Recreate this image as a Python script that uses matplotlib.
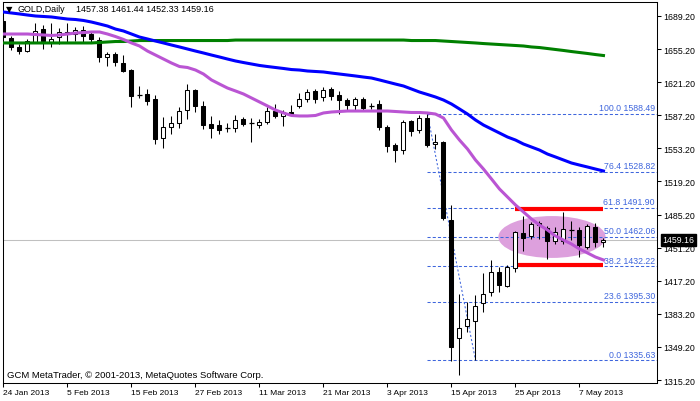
import matplotlib
matplotlib.use('Agg')
import matplotlib.pyplot as plt
from matplotlib.patches import Rectangle, Ellipse

plt.rcParams['font.family'] = ['Liberation Sans', 'DejaVu Sans']

# ---- data (GOLD daily, 24 Jan - 10 May 2013) ----
date_ticks = [0, 8, 16, 24, 32, 40, 48, 56, 64, 72]
date_labels = ['24 Jan 2013', '5 Feb 2013', '15 Feb 2013', '27 Feb 2013', '11 Mar 2013',
               '21 Mar 2013', '3 Apr 2013', '15 Apr 2013', '25 Apr 2013', '7 May 2013']

opens = [1684.1, 1666.6, 1657.4, 1653.2, 1662.5, 1675.8, 1662.5, 1667.6, 1670.7, 1670.7,
         1674.8, 1670.7, 1664.5, 1647.1, 1650.2, 1640.9, 1633.7, 1608.6, 1609.1, 1603.9,
         1563.9, 1575.2, 1579.3, 1592.6, 1613.2, 1596.8, 1578.3, 1577.2, 1574.2, 1574.2,
         1583.4, 1579.3, 1577.2, 1580.3, 1591.6, 1586.5, 1590.6, 1596.8, 1603.9, 1612.2,
         1606.0, 1614.2, 1608.1, 1602.9, 1597.8, 1603.9, 1597.3, 1598.8, 1575.2, 1556.7,
         1551.6, 1581.3, 1572.1, 1584.4, 1557.7, 1559.8, 1479.7, 1358.4, 1370.8, 1375.9,
         1394.4, 1405.7, 1426.2, 1411.9, 1430.3, 1466.3, 1463.2, 1476.6, 1471.4, 1458.1,
         1458.1, 1468.9, 1469.4, 1451.9, 1472.5, 1457.38]
highs = [1687.1, 1668.7, 1660.4, 1665.6, 1682.0, 1679.9, 1682.0, 1676.9, 1682.0, 1677.9,
         1678.9, 1672.8, 1667.6, 1652.2, 1652.2, 1649.1, 1634.8, 1617.3, 1614.2, 1608.1,
         1585.5, 1586.5, 1595.7, 1619.3, 1614.2, 1601.9, 1586.5, 1582.4, 1579.3, 1587.5,
         1585.5, 1584.4, 1583.4, 1595.7, 1598.8, 1592.6, 1597.8, 1610.1, 1614.2, 1614.2,
         1616.3, 1616.3, 1612.2, 1605.0, 1606.0, 1606.0, 1599.8, 1602.9, 1577.2, 1558.7,
         1582.4, 1582.7, 1587.0, 1588.49, 1568.0, 1560.8, 1495.1, 1403.6, 1395.4, 1402.6,
         1425.2, 1438.6, 1431.4, 1433.7, 1468.7, 1483.8, 1477.6, 1478.6, 1473.8, 1472.5,
         1487.9, 1478.6, 1472.5, 1475.5, 1476.6, 1461.44]
lows = [1665.6, 1654.3, 1650.2, 1652.2, 1661.5, 1655.3, 1657.4, 1660.4, 1662.5, 1663.5,
        1661.5, 1662.5, 1641.9, 1637.8, 1637.8, 1631.7, 1595.7, 1605.0, 1597.8, 1557.7,
        1553.6, 1568.0, 1574.2, 1583.4, 1590.6, 1573.1, 1563.9, 1568.0, 1570.0, 1570.0,
        1576.2, 1559.8, 1574.2, 1578.3, 1584.4, 1576.2, 1587.5, 1594.7, 1600.9, 1599.8,
        1601.9, 1602.9, 1588.5, 1592.6, 1592.6, 1591.6, 1593.7, 1572.1, 1549.5, 1539.2,
        1547.4, 1565.9, 1569.0, 1554.6, 1552.6, 1479.7, 1334.8, 1320.4, 1364.6, 1335.63,
        1385.2, 1401.6, 1405.7, 1410.8, 1426.2, 1447.8, 1460.1, 1460.1, 1439.6, 1455.0,
        1455.0, 1459.1, 1441.6, 1449.9, 1451.9, 1452.33]
closes = [1667.6, 1657.4, 1653.2, 1663.5, 1673.8, 1663.5, 1665.6, 1672.8, 1672.8, 1674.8,
          1668.7, 1665.6, 1647.1, 1650.2, 1641.9, 1632.7, 1607.0, 1608.1, 1601.9, 1562.9,
          1575.2, 1579.3, 1591.6, 1613.2, 1596.8, 1577.2, 1574.2, 1572.1, 1573.6, 1582.4,
          1578.3, 1578.8, 1580.3, 1591.6, 1586.5, 1590.6, 1588.5, 1603.9, 1611.1, 1603.9,
          1613.2, 1607.0, 1602.9, 1597.8, 1603.9, 1594.7, 1596.8, 1575.2, 1555.6, 1551.6,
          1580.3, 1571.1, 1584.4, 1556.7, 1559.8, 1481.7, 1349.2, 1368.7, 1377.9, 1391.3,
          1403.6, 1426.2, 1412.9, 1431.4, 1467.3, 1461.2, 1475.5, 1474.5, 1458.1, 1467.3,
          1470.4, 1469.4, 1454.0, 1473.5, 1457.1, 1459.16]

ma_blue = [1693.3, 1692.3, 1691.3, 1690.2, 1689.2, 1688.7, 1688.2, 1687.1, 1686.1, 1685.6,
           1684.6, 1683.0, 1681.0, 1678.9, 1675.8, 1673.8, 1670.7, 1667.6, 1665.6, 1663.5,
           1661.5, 1659.4, 1657.4, 1655.3, 1653.2, 1651.2, 1649.1, 1647.1, 1645.0, 1643.0,
           1641.4, 1639.9, 1638.4, 1637.3, 1636.3, 1635.3, 1634.2, 1633.7, 1632.7, 1632.2,
           1631.7, 1630.6, 1629.6, 1628.6, 1627.6, 1626.5, 1625.5, 1623.5, 1621.4, 1619.3,
           1617.3, 1614.2, 1611.1, 1608.6, 1606.0, 1602.9, 1598.8, 1593.7, 1588.5, 1582.4,
           1577.2, 1573.1, 1569.0, 1564.9, 1561.8, 1557.7, 1554.6, 1551.5, 1547.4, 1544.4,
           1541.3, 1538.2, 1536.1, 1534.1, 1532.0, 1530.0]
ma_orchid = [1670.7, 1670.7, 1670.7, 1670.7, 1670.2, 1669.7, 1669.2, 1669.7, 1670.7, 1671.7,
             1672.2, 1672.8, 1672.8, 1670.7, 1668.1, 1665.1, 1661.5, 1658.4, 1653.2, 1649.1,
             1645.0, 1640.9, 1637.3, 1636.3, 1633.7, 1629.6, 1623.5, 1619.3, 1615.2, 1612.2,
             1609.1, 1605.0, 1600.9, 1596.8, 1592.6, 1589.6, 1587.0, 1586.5, 1586.5, 1587.0,
             1589.6, 1590.6, 1591.1, 1591.6, 1591.6, 1591.6, 1591.6, 1591.6, 1591.6, 1591.1,
             1590.6, 1590.1, 1590.1, 1589.6, 1588.5, 1584.4, 1572.1, 1561.8, 1552.6, 1541.3,
             1532.0, 1521.8, 1511.5, 1503.3, 1495.1, 1487.9, 1480.7, 1474.5, 1469.4, 1463.2,
             1459.1, 1455.0, 1449.9, 1445.8, 1441.6, 1438.6]
ma_green = [1661.5, 1661.5, 1661.5, 1661.5, 1661.5, 1661.5, 1661.5, 1661.5, 1661.5, 1661.5,
            1661.5, 1661.5, 1662.0, 1662.5, 1663.0, 1663.0, 1663.5, 1664.0, 1664.0, 1664.0,
            1664.0, 1664.0, 1664.0, 1664.0, 1664.0, 1664.0, 1664.0, 1664.0, 1664.0, 1664.5,
            1664.5, 1664.5, 1664.5, 1664.5, 1664.5, 1664.5, 1664.5, 1664.5, 1664.5, 1664.5,
            1664.5, 1664.5, 1664.5, 1664.5, 1664.5, 1664.5, 1664.5, 1664.5, 1664.5, 1664.5,
            1664.5, 1664.0, 1664.0, 1664.0, 1664.0, 1663.5, 1663.0, 1662.5, 1662.0, 1661.5,
            1660.9, 1660.4, 1659.9, 1659.4, 1658.9, 1658.4, 1657.4, 1656.8, 1655.8, 1654.8,
            1653.8, 1652.7, 1651.7, 1650.7, 1649.6, 1648.6]

fib_high_bar, fib_high = 53, 1588.49
fib_low_bar, fib_low = 59, 1335.63
fib_levels = [0.0, 23.6, 38.2, 50.0, 61.8, 76.4, 100.0]
bid = 1459.16
zone_top, zone_bottom = 1491.4, 1433.9
y_ticks = [1315.20, 1349.20, 1383.20, 1417.20, 1451.20, 1485.20,
           1519.20, 1553.20, 1587.20, 1621.20, 1655.20, 1689.20]

W, H = 700, 402
fig = plt.figure(figsize=(W / 100, H / 100), dpi=100)
ax = fig.add_axes([3 / W, 18 / H, 654 / W, 381 / H])
x_right = 81.69
ax.set_xlim(-0.0625, x_right)
ax.set_ylim(1312.22, 1703.58)

# background objects
ax.axhline(bid, color='#C0C0C0', lw=0.75, zorder=1)
ax.add_patch(Ellipse((68.56, 1462.2), 13.4, 43.0, facecolor='#DDA0DD', edgecolor='none', zorder=1.5))
ax.hlines(zone_top, 63.9, 74.9, color='#FF0000', lw=3.0, zorder=2.5)
ax.hlines(zone_bottom, 64.2, 74.9, color='#FF0000', lw=3.0, zorder=2.5)

# fibonacci retracement
fib_col = '#3F66DD'
for lvl in fib_levels:
    p = fib_low + (fib_high - fib_low) * lvl / 100
    ax.hlines(p, fib_high_bar, x_right, color=fib_col, lw=0.75, linestyles=(0, (3, 2)), zorder=2)
    ax.annotate(f'{lvl:.1f} {p:.2f}', xy=(x_right, p), xytext=(-1.5, 1.2), textcoords='offset points',
                ha='right', va='bottom', color=fib_col, fontsize=6.3, zorder=6)
ax.plot([fib_high_bar, fib_low_bar], [fib_high, fib_low], color=fib_col, lw=0.75,
        ls=(0, (2, 2)), zorder=2)

# candles
for i in range(len(opens)):
    o, h, l, c = opens[i], highs[i], lows[i], closes[i]
    ax.vlines(i, l, h, color='black', lw=0.75, zorder=3)
    lo, hi = min(o, c), max(o, c)
    if hi - lo < 1.0:
        ax.hlines((o + c) / 2, i - 0.3, i + 0.3, color='black', lw=0.9, zorder=4)
    else:
        face = 'white' if c > o else 'black'
        ax.add_patch(Rectangle((i - 0.25, lo), 0.5, hi - lo, facecolor=face,
                               edgecolor='black', lw=0.75, zorder=4))

# moving averages
xs = list(range(len(ma_blue)))
ax.plot(xs, ma_green, color='#008000', lw=2.2, zorder=5)
ax.plot(xs, ma_blue, color='#0000FF', lw=2.2, zorder=5)
ax.plot(xs, ma_orchid, color='#BA55D3', lw=2.2, zorder=5)

# axes styling
for s in ax.spines.values():
    s.set_color('black')
    s.set_linewidth(0.75)
ax.yaxis.tick_right()
ax.set_yticks(y_ticks)
ax.set_yticklabels([f'{v:.2f}' for v in y_ticks])
ax.tick_params(axis='y', length=3, width=0.75, pad=1.5, labelsize=6.3, direction='out')
ax.set_xticks(date_ticks)
ax.set_xticklabels(date_labels, ha='left')
ax.tick_params(axis='x', length=3, width=0.75, pad=1.5, labelsize=6.0, direction='out')

ax.annotate('1459.16', xy=(1, bid), xycoords=('axes fraction', 'data'), xytext=(4, 0),
            textcoords='offset points', ha='left', va='center', color='white', fontsize=6.3,
            bbox=dict(boxstyle='square,pad=0.2', fc='black', ec='black'), zorder=10,
            annotation_clip=False)

fig.text(6 / W, 1 - 10 / H, '\u25bc', fontsize=6, va='center', ha='left', family='DejaVu Sans')
fig.text(18 / W, 1 - 10 / H, 'GOLD,Daily', fontsize=6.4, va='center', ha='left')
fig.text(76 / W, 1 - 10 / H, '1457.38 1461.44 1452.33 1459.16', fontsize=6.5, va='center', ha='left')
fig.text(7 / W, 1 - 376 / H, 'GCM MetaTrader, \u00a9 2001-2013, MetaQuotes Software Corp.',
         fontsize=6.8, va='center', ha='left')

fig.savefig('out.png', dpi=100, facecolor='white')
